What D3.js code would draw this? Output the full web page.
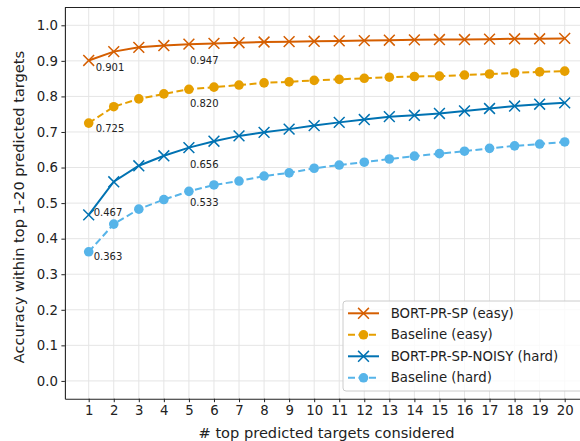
<!DOCTYPE html>
<html>
<head>
<meta charset="utf-8">
<script src="https://cdn.jsdelivr.net/npm/d3@7"></script>
<style>
  body { margin: 0; background: #fff; }
  svg { display: block; font-family: "DejaVu Sans", sans-serif; }
</style>
</head>
<body>
<svg width="580" height="441"></svg>
<script>
// Data
var ks = d3.range(1, 21);
var bortEasy = [0.901, 0.926, 0.938, 0.943, 0.947, 0.949, 0.951, 0.953, 0.954, 0.955,
                0.956, 0.957, 0.958, 0.959, 0.960, 0.960, 0.961, 0.962, 0.962, 0.963];
var baseEasy = [0.725, 0.771, 0.793, 0.807, 0.820, 0.826, 0.832, 0.838, 0.841, 0.845,
                0.848, 0.851, 0.854, 0.856, 0.857, 0.860, 0.863, 0.866, 0.869, 0.871];
var bortHard = [0.467, 0.560, 0.605, 0.633, 0.656, 0.674, 0.689, 0.699, 0.708, 0.718,
                0.727, 0.735, 0.743, 0.747, 0.752, 0.759, 0.766, 0.773, 0.778, 0.782];
var baseHard = [0.363, 0.441, 0.483, 0.510, 0.533, 0.551, 0.562, 0.576, 0.585, 0.598,
                0.607, 0.615, 0.624, 0.632, 0.639, 0.646, 0.654, 0.661, 0.666, 0.672];
var seriesNames = ['BORT-PR-SP (easy)', 'Baseline (easy)', 'BORT-PR-SP-NOISY (hard)', 'Baseline (hard)'];
var yTicks = [0, 0.1, 0.2, 0.3, 0.4, 0.5, 0.6, 0.7, 0.8, 0.9, 1.0];
var annotatedKs = [1, 5];

var series = [
    {name: seriesNames[0], values: bortEasy, color: '#D55E00', marker: 'x', dash: null},
    {name: seriesNames[1], values: baseEasy, color: '#E69F00', marker: 'o', dash: '7,3.5'},
    {name: seriesNames[2], values: bortHard, color: '#0072B2', marker: 'x', dash: null},
    {name: seriesNames[3], values: baseHard, color: '#56B4E9', marker: 'o', dash: '7,3.5'}
];

// label offsets (px) relative to the point, per series, for k=1 and k=5
var labelOffsets = [
    [[7, 11], [1, 20]],
    [[7, 9], [1, 18]],
    [[5, 1], [1, 20]],
    [[5, 8], [1, 15]]
];

var svg = d3.select('svg');
var padding = {t: 7.5, l: 64.9, b: 42.3};
var plotRight = 588.5;
var chartHeight = 441 - padding.t - padding.b;

var xScale = d3.scaleLinear().domain([0.05, 20.95]).range([padding.l, plotRight]);
var yScale = d3.scaleLinear().domain([-0.05, 1.05]).range([padding.t + chartHeight, padding.t]);

// grid
var gridG = svg.append('g');
gridG.selectAll('.vgrid').data(ks).enter().append('line')
    .attr('x1', function(d) { return xScale(d); })
    .attr('x2', function(d) { return xScale(d); })
    .attr('y1', yScale.range()[0]).attr('y2', yScale.range()[1])
    .attr('stroke', '#e5e5e5').attr('stroke-width', 1);
gridG.selectAll('.hgrid').data(yTicks).enter().append('line')
    .attr('y1', function(d) { return yScale(d); })
    .attr('y2', function(d) { return yScale(d); })
    .attr('x1', padding.l).attr('x2', plotRight)
    .attr('stroke', '#e5e5e5').attr('stroke-width', 1);

// series
var line = d3.line()
    .x(function(d, i) { return xScale(ks[i]); })
    .y(function(d) { return yScale(d); });

function drawMarker(g, type, color, cx, cy) {
    if (type === 'o') {
        g.append('circle').attr('cx', cx).attr('cy', cy).attr('r', 4.8).attr('fill', color);
    } else {
        var s = 5.4;
        g.append('path')
            .attr('d', 'M' + (cx - s) + ',' + (cy - s) + 'L' + (cx + s) + ',' + (cy + s) +
                       'M' + (cx - s) + ',' + (cy + s) + 'L' + (cx + s) + ',' + (cy - s))
            .attr('stroke', color).attr('stroke-width', 1.5).attr('fill', 'none');
    }
}

series.forEach(function(s, si) {
    var g = svg.append('g');
    g.append('path')
        .datum(s.values)
        .attr('d', line)
        .attr('fill', 'none')
        .attr('stroke', s.color)
        .attr('stroke-width', 2)
        .attr('stroke-dasharray', s.dash);
    s.values.forEach(function(v, i) {
        drawMarker(g, s.marker, s.color, xScale(ks[i]), yScale(v));
    });
    annotatedKs.forEach(function(k, ai) {
        var v = s.values[k - 1];
        var off = labelOffsets[si][ai];
        g.append('text')
            .attr('x', xScale(k) + off[0])
            .attr('y', yScale(v) + off[1])
            .attr('font-size', 10)
            .attr('fill', '#222')
            .text(v.toFixed(3));
    });
});

// axes
var xAxisG = svg.append('g')
    .attr('transform', 'translate(0,' + (padding.t + chartHeight) + ')')
    .call(d3.axisBottom(xScale).tickValues(ks).tickSize(3.5).tickPadding(3.5).tickSizeOuter(0));
var yAxisG = svg.append('g')
    .attr('transform', 'translate(' + padding.l + ',0)')
    .call(d3.axisLeft(yScale).tickValues(yTicks).tickFormat(d3.format('.1f')).tickSize(3.5).tickPadding(3.5).tickSizeOuter(0));
[xAxisG, yAxisG].forEach(function(a) {
    a.selectAll('text').attr('font-size', 13.3).attr('fill', '#222').attr('font-family', '"DejaVu Sans", sans-serif');
    a.selectAll('line').attr('stroke', '#222').attr('stroke-width', 1);
    a.select('.domain').attr('stroke', '#222').attr('stroke-width', 1.1);
});
// top spine
svg.append('line')
    .attr('x1', padding.l).attr('x2', plotRight)
    .attr('y1', padding.t).attr('y2', padding.t)
    .attr('stroke', '#222').attr('stroke-width', 1.1);

// axis labels
svg.append('text')
    .attr('x', 326.5)
    .attr('y', 437.5)
    .attr('text-anchor', 'middle')
    .attr('font-size', 14.6)
    .attr('fill', '#222')
    .text('# top predicted targets considered');
svg.append('text')
    .attr('transform', 'translate(24,207) rotate(-90)')
    .attr('text-anchor', 'middle')
    .attr('font-size', 14.6)
    .attr('fill', '#222')
    .text('Accuracy within top 1-20 predicted targets');

// legend
var legendG = svg.append('g').attr('transform', 'translate(343,301)');
legendG.append('rect')
    .attr('width', 250).attr('height', 90)
    .attr('rx', 3)
    .attr('fill', 'rgba(255,255,255,0.8)')
    .attr('stroke', '#ccc').attr('stroke-width', 1);
series.forEach(function(s, i) {
    var cy = 12.3 + i * 21.5;
    var row = legendG.append('g');
    row.append('line')
        .attr('x1', 5).attr('x2', 36)
        .attr('y1', cy).attr('y2', cy)
        .attr('stroke', s.color).attr('stroke-width', 2)
        .attr('stroke-dasharray', s.dash);
    drawMarker(row, s.marker, s.color, 20.5, cy);
    row.append('text')
        .attr('x', 47.7).attr('y', cy)
        .attr('dy', '0.35em')
        .attr('font-size', 13.3)
        .attr('fill', '#222')
        .text(s.name);
});
</script>
</body>
</html>
